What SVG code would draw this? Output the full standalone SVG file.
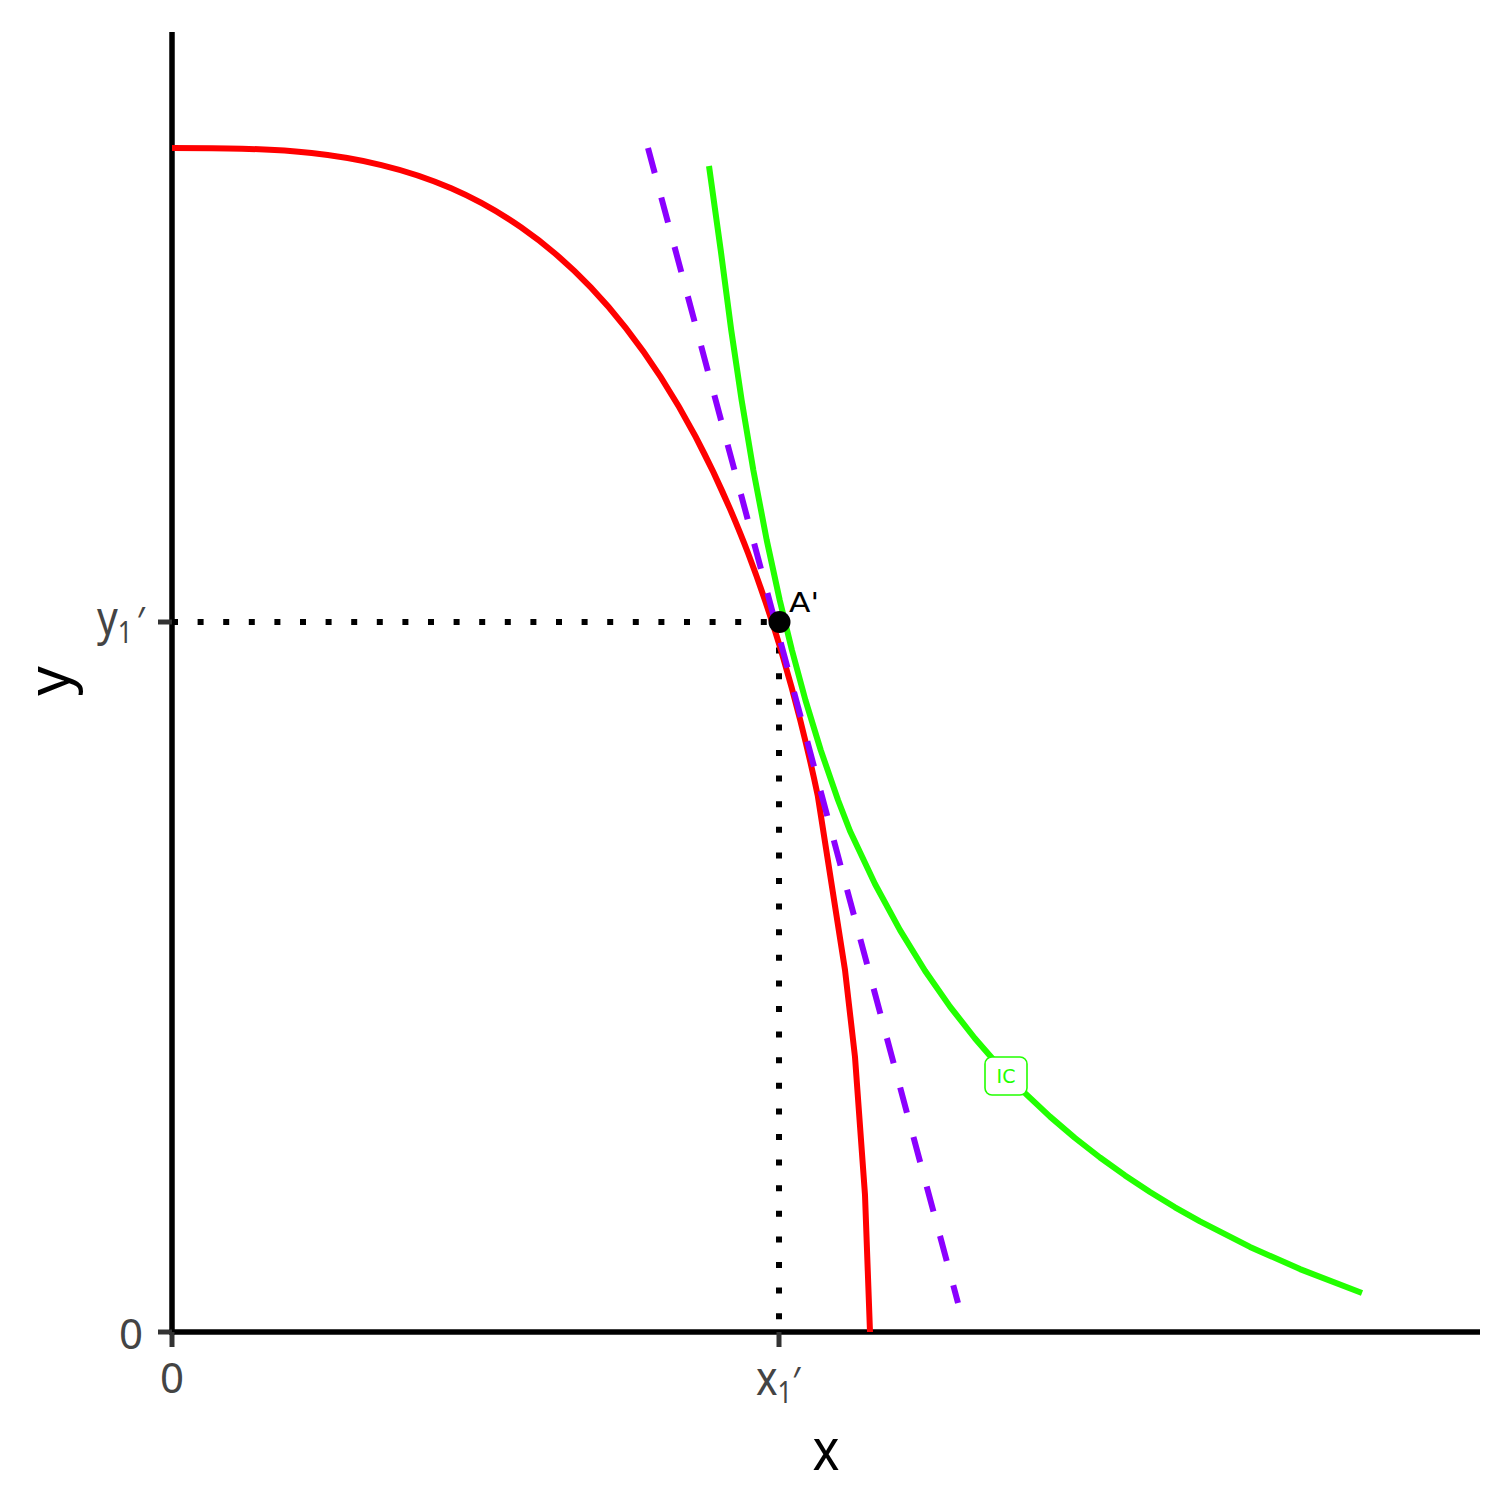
<svg xmlns="http://www.w3.org/2000/svg" width="1512" height="1512" viewBox="0 0 1512 1512">
<style>
.axis{stroke:#000;stroke-width:5.5;fill:none;stroke-linecap:butt}
.tick{stroke:#333;stroke-width:5;fill:none}
.dot{stroke:#000;stroke-width:6;fill:none;stroke-dasharray:6 19.6}
.tl{font-family:"Noto Sans","Open Sans",sans-serif;fill:#444}
.lab{font-family:"DejaVu Sans","Noto Sans",sans-serif}
.title{font-family:"Noto Sans","Open Sans",sans-serif;fill:#000;font-size:58px}
</style>
<rect width="1512" height="1512" fill="#fff"/>
<g id="guides">
<line class="dot" x1="172" y1="622" x2="779" y2="622"/>
<line class="dot" x1="779" y1="622" x2="779" y2="1332"/>
</g>
<g id="axes">
<line class="axis" x1="172" y1="32" x2="172" y2="1334.7"/>
<line class="axis" x1="169.3" y1="1332" x2="1480" y2="1332"/>
<line class="tick" x1="158" y1="622" x2="172" y2="622"/>
<line class="tick" x1="158" y1="1332" x2="172" y2="1332"/>
<line class="tick" x1="172" y1="1332" x2="172" y2="1347"/>
<line class="tick" x1="779" y1="1332" x2="779" y2="1347"/>
</g>
<g id="ppf">
<path fill="none" stroke="#FF0000" stroke-width="6" stroke-linejoin="round" d="M172,148 C195.3,148 218.5,148.05 241.8,148.7 C265.1,149.35 288.3,150.56 311.6,153.1 C334.9,155.64 358.1,159.46 381.4,165.1 C404.7,170.74 427.9,178.21 451.2,188.3 C474.5,198.39 497.7,211.15 521,227.3 C532.6,235.37 544.3,244.23 555.9,254.2 C567.5,264.17 579.2,275.21 590.8,287.4 C602.4,299.59 614.1,312.98 625.7,327.8 C637.3,342.62 649,358.8 660.6,376.8 C672.2,394.8 683.9,414.54 695.5,436.5 C707.1,458.46 718.8,482.67 730.4,509.8 C736.2,523.36 742.1,537.6 747.9,552.8 C753.7,568 759.5,584.12 765.3,601.3 C771.1,618.48 777,636.74 782.8,656.4 C788.6,676.06 794.4,697.07 800.2,720 C806,742.93 811.9,767.72 817.7,795.3 L845,970 L855,1057 L865,1195 L870,1332"/>
</g>
<g id="budget-line">
<line x1="648" y1="148" x2="958" y2="1303" stroke="#8B00FF" stroke-width="6" stroke-dasharray="26 25.2"/>
</g>
<g id="ic-curve">
<polyline fill="none" stroke="#22FF00" stroke-width="6" stroke-linejoin="round" points="709,166 720.7,250 731.2,330 741.6,400 753.3,470 766.7,540 779.7,600 791.9,650 805.4,700 820.7,750 838,800 850,831 875,884 900,930.1 925,970.7 950,1006.6 975,1038.5 1000,1067.2 1025,1093.1 1050,1116.6 1075,1138 1100,1157.5 1125,1175.4 1150,1192 1175,1207.3 1200,1221.4 1250,1246.9 1300,1269.1 1362,1293"/>
</g>
<g id="point-A">
<circle cx="779.5" cy="622" r="11" fill="#000"/>
<text class="lab" x="789" y="612" font-size="26" fill="#000" textLength="30" lengthAdjust="spacingAndGlyphs">A'</text>
</g>
<g id="ic-label">
<rect x="985" y="1057" width="42" height="38" rx="7" ry="7" fill="#fff" stroke="#22FF00" stroke-width="1.6"/>
<text class="lab" x="1006" y="1083" text-anchor="middle" font-size="19" fill="#22FF00">IC</text>
</g>
<g id="tick-labels">
<g transform="translate(97,0) scale(0.85,1)">
<text class="tl" x="0" y="635"><tspan font-size="48">y</tspan><tspan font-size="30" dy="8">1</tspan><tspan font-size="40" dy="-7" dx="5">′</tspan></text>
</g>
<text class="tl" x="143" y="1349" font-size="42" text-anchor="end">0</text>
<text class="tl" x="172" y="1393" font-size="42" text-anchor="middle">0</text>
<g transform="translate(756,0) scale(0.85,1)">
<text class="tl" x="0" y="1395"><tspan font-size="48">x</tspan><tspan font-size="30" dy="8">1</tspan><tspan font-size="40" dy="-7">′</tspan></text>
</g>
</g>
<g id="axis-titles">
<text class="title" x="826" y="1470" text-anchor="middle" textLength="27" lengthAdjust="spacingAndGlyphs">x</text>
<text class="title" transform="translate(69,681) rotate(-90)" text-anchor="middle">y</text>
</g>
</svg>
